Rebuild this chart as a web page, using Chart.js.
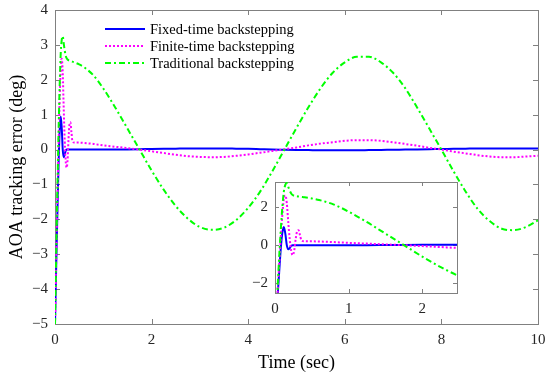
<!DOCTYPE html>
<html>
<head>
<meta charset="utf-8">
<script src="https://cdn.jsdelivr.net/npm/chart.js@4.4.0/dist/chart.umd.min.js"></script>
<style>
  body { margin: 0; background: #fff; }
  #wrap { position: relative; width: 550px; height: 380px; }
  #main { position: absolute; left: 0; top: 0; }
  #inset { position: absolute; left: 250px; top: 178px; }
</style>
</head>
<body>
<div id="wrap">
  <canvas id="main" width="550" height="380"></canvas>
  <canvas id="inset" width="210" height="140"></canvas>
</div>
<script>
// time samples (sec), dense at the start for the transient
const timeSec = [0, 0.03, 0.06, 0.08, 0.1, 0.12, 0.14, 0.16, 0.18, 0.2, 0.22, 0.24, 0.26, 0.28, 0.3, 0.32, 0.34, 0.36, 0.4, 0.5, 0.6, 0.8,
  1.0, 1.25, 1.5, 1.75, 2.0, 2.25, 2.5, 2.75, 3.0, 3.25, 3.5, 3.75, 4.0, 4.25, 4.5, 4.75, 5.0, 5.25, 5.5, 5.75,
  6.0, 6.25, 6.5, 6.75, 7.0, 7.25, 7.5, 7.75, 8.0, 8.25, 8.5, 8.75, 9.0, 9.25, 9.5, 9.75, 10];

const fixedTime = [-5, -3.0, -1.2, -0.1, 0.65, 0.95, 0.6, 0.0, -0.22, -0.15, -0.04, 0.0, 0.0, 0.0, 0.0, 0.0, 0.0, 0.0, 0.0, 0.0, 0.0, 0.0,
  0.0, 0.0, 0.005, 0.01, 0.015, 0.02, 0.025, 0.03, 0.03, 0.03, 0.03, 0.025, 0.02, 0.01, 0.0, -0.005, -0.01, -0.015, -0.02, -0.02,
  -0.02, -0.02, -0.015, -0.01, -0.005, 0.0, 0.005, 0.01, 0.015, 0.02, 0.025, 0.03, 0.03, 0.03, 0.03, 0.03, 0.03];

const finiteTime = [-5, -2.8, -0.8, 0.5, 1.6, 2.4, 2.6, 2.2, 1.2, 0.3, -0.3, -0.52, -0.3, 0.3, 0.72, 0.78, 0.5, 0.25, 0.2, 0.2, 0.19, 0.16,
  0.12, 0.08, 0.04, 0.0, -0.05, -0.1, -0.15, -0.19, -0.21, -0.22, -0.21, -0.18, -0.14, -0.09, -0.04, 0.01, 0.06, 0.12, 0.17, 0.21,
  0.25, 0.27, 0.27, 0.25, 0.21, 0.16, 0.11, 0.05, 0.0, -0.06, -0.11, -0.16, -0.2, -0.22, -0.22, -0.2, -0.18];

const traditional = [-5, -2.6, -0.4, 0.9, 2.0, 2.8, 3.15, 3.25, 3.05, 2.85, 2.7, 2.62, 2.58, 2.56, 2.55, 2.54, 2.53, 2.52, 2.5, 2.44, 2.36, 2.12,
  1.75, 1.2, 0.6, 0.0, -0.6, -1.15, -1.62, -1.98, -2.22, -2.3, -2.24, -2.02, -1.67, -1.2, -0.62, 0.0, 0.62, 1.22, 1.76, 2.2,
  2.5, 2.66, 2.66, 2.5, 2.2, 1.76, 1.2, 0.6, 0.0, -0.62, -1.2, -1.7, -2.05, -2.27, -2.31, -2.22, -2.03];

const seriesNames = ['Fixed-time backstepping', 'Finite-time backstepping', 'Traditional backstepping'];
const mainXTicks = [0, 2, 4, 6, 8, 10];
const mainYTicks = [-5, -4, -3, -2, -1, 0, 1, 2, 3, 4];
const insetXTicks = [0, 1, 2];
const insetYTicks = [-2, 0, 2];

const serif = 'Liberation Serif, Times New Roman, serif';

function pts(vals) {
  return timeSec.map((t, i) => ({ x: t, y: vals[i] }));
}

function makeDatasets() {
  return [
    { label: seriesNames[0], data: pts(fixedTime), borderColor: '#0000ff', borderWidth: 2, order: 3 },
    { label: seriesNames[1], data: pts(finiteTime), borderColor: '#ff00ff', borderWidth: 2, borderDash: [2, 2], order: 2 },
    { label: seriesNames[2], data: pts(traditional), borderColor: '#00ff00', borderWidth: 2, borderDash: [6, 3, 2, 3], order: 1 }
  ].map(d => Object.assign(d, { pointRadius: 0, fill: false, cubicInterpolationMode: 'monotone' }));
}

function fmt(v) {
  return String(v).replace('-', '\u2212');
}

// box round the plot with inward ticks on all sides (MATLAB style)
const boxTicks = {
  id: 'boxTicks',
  beforeDraw(chart, args, opts) {
    if (!opts.fill) return;
    const a = chart.chartArea, ctx = chart.ctx;
    ctx.save();
    ctx.fillStyle = opts.fill;
    ctx.fillRect(a.left, a.top, a.right - a.left, a.bottom - a.top);
    ctx.restore();
  },
  beforeDatasetsDraw(chart, args, opts) {
    const { ctx, chartArea: a, scales } = chart;
    const len = opts.len || 5;
    ctx.save();
    ctx.strokeStyle = opts.color || '#808080';
    ctx.lineWidth = 1;
    ctx.strokeRect(Math.round(a.left) + 0.5, Math.round(a.top) + 0.5, Math.round(a.right - a.left), Math.round(a.bottom - a.top));
    ctx.beginPath();
    scales.x.ticks.forEach(t => {
      const px = Math.round(scales.x.getPixelForValue(t.value)) + 0.5;
      ctx.moveTo(px, a.bottom); ctx.lineTo(px, a.bottom - len);
      ctx.moveTo(px, a.top); ctx.lineTo(px, a.top + len);
    });
    scales.y.ticks.forEach(t => {
      const py = Math.round(scales.y.getPixelForValue(t.value)) + 0.5;
      ctx.moveTo(a.left, py); ctx.lineTo(a.left + len, py);
      ctx.moveTo(a.right, py); ctx.lineTo(a.right - len, py);
    });
    ctx.stroke();
    ctx.restore();
  }
};

// legend drawn inside the plot, no frame
const innerLegend = {
  id: 'innerLegend',
  afterDatasetsDraw(chart, args, opts) {
    if (!opts.show) return;
    const { ctx, chartArea: a } = chart;
    ctx.save();
    chart.data.datasets.forEach((ds, i) => {
      const y = a.top + opts.top + i * opts.gap;
      ctx.strokeStyle = ds.borderColor;
      ctx.lineWidth = ds.borderWidth;
      ctx.setLineDash(ds.borderDash || []);
      ctx.beginPath();
      ctx.moveTo(a.left + opts.x0, y);
      ctx.lineTo(a.left + opts.x1, y);
      ctx.stroke();
      ctx.setLineDash([]);
      ctx.fillStyle = '#000';
      ctx.font = '14.5px ' + serif;
      ctx.textBaseline = 'middle';
      ctx.fillText(ds.label, a.left + opts.x1 + 5, y + 1);
    });
    ctx.restore();
  }
};

function axis(min, max, tickList, size, isX, extra) {
  return Object.assign({
    type: 'linear',
    min: min,
    max: max,
    grid: { display: false, drawTicks: false },
    border: { display: false },
    afterBuildTicks: s => { s.ticks = tickList.map(v => ({ value: v })); },
    afterFit: s => {
      if (isX) { s.height = size; s.paddingLeft = 0; s.paddingRight = 0; }
      else { s.width = size; s.paddingTop = 0; s.paddingBottom = 0; }
    },
    ticks: { padding: 7, maxRotation: 0, color: '#262626', font: { family: serif, size: 15 }, callback: fmt }
  }, extra || {});
}

new Chart(document.getElementById('main').getContext('2d'), {
  type: 'line',
  data: { datasets: makeDatasets() },
  options: {
    responsive: false,
    animation: false,
    layout: { padding: { top: 10, right: 12, left: 0, bottom: 0 } },
    plugins: {
      legend: { display: false },
      tooltip: { enabled: false },
      boxTicks: { color: '#808080', len: 5 },
      innerLegend: { show: true, x0: 50, x1: 90, top: 19, gap: 17 }
    },
    scales: {
      x: axis(0, 10, mainXTicks, 56, true, {
        title: { display: true, text: 'Time (sec)', color: '#000', font: { family: serif, size: 18 }, padding: { top: 0, bottom: 6 } }
      }),
      y: axis(-5, 4, mainYTicks, 55, false, {
        title: { display: true, text: 'AOA tracking error (deg)', color: '#000', font: { family: serif, size: 18 }, padding: { top: 6, bottom: 0 } }
      })
    }
  },
  plugins: [boxTicks, innerLegend]
});

new Chart(document.getElementById('inset').getContext('2d'), {
  type: 'line',
  data: { datasets: makeDatasets() },
  options: {
    responsive: false,
    animation: false,
    layout: { padding: { top: 4, right: 3, left: 0, bottom: 0 } },
    plugins: {
      legend: { display: false },
      tooltip: { enabled: false },
      boxTicks: { color: '#808080', len: 4, fill: '#ffffff' },
      innerLegend: { show: false }
    },
    scales: {
      x: axis(0, 2.47, insetXTicks, 25, true),
      y: axis(-2.5, 3.3, insetYTicks, 25, false)
    }
  },
  plugins: [boxTicks, innerLegend]
});
</script>
</body>
</html>
